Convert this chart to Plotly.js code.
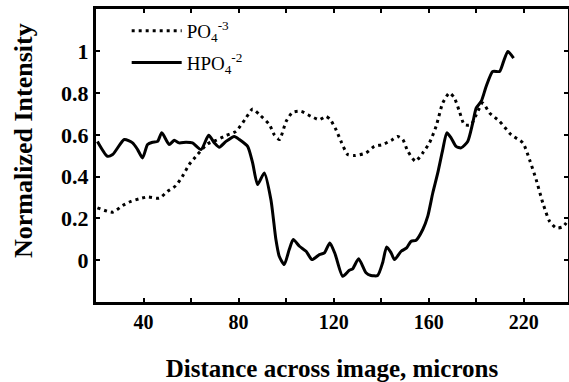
<!DOCTYPE html>
<html>
<head>
<meta charset="utf-8">
<script src="https://cdn.plot.ly/plotly-3.0.1.min.js"></script>
<style>html,body{margin:0;padding:0;background:#fff;}#chart{width:569px;height:382px;}</style>
</head>
<body>
<div id="chart"></div>
<script>
// Distance across image (microns) and normalized intensity
const po4X = [20.6, 27, 31.2, 34.7, 38.2, 41.7, 46.6, 50.1, 53.6, 56.4, 59.2, 62.7, 66.9, 70.5, 74.7, 78.9, 83.1, 85.9, 88.8, 93, 95, 97.2, 100, 102.7, 106.3, 110.5, 114, 116.8, 118.5, 121, 123.1, 125.9, 128.7, 133.6, 137.1, 140.6, 144.2, 146.9, 149.1, 151.2, 154.4, 157.5, 160.3, 163.1, 165.9, 168.7, 170.8, 172.9, 175, 177.8, 180, 182.7, 185.6, 189.8, 194.7, 199.6, 202.4, 205.2, 208, 210.8, 213.6, 216.4, 218.8];
const po4Y = [0.251, 0.23, 0.262, 0.282, 0.294, 0.303, 0.297, 0.33, 0.357, 0.402, 0.458, 0.506, 0.557, 0.574, 0.597, 0.617, 0.681, 0.724, 0.697, 0.649, 0.601, 0.578, 0.665, 0.708, 0.713, 0.689, 0.673, 0.689, 0.675, 0.625, 0.569, 0.506, 0.501, 0.514, 0.545, 0.554, 0.574, 0.593, 0.578, 0.522, 0.474, 0.514, 0.562, 0.641, 0.753, 0.801, 0.777, 0.713, 0.649, 0.649, 0.697, 0.753, 0.705, 0.665, 0.601, 0.562, 0.482, 0.386, 0.275, 0.187, 0.155, 0.16, 0.195];

const hpo4X = [20.6, 24.8, 27, 31.9, 35.4, 37.5, 39.6, 41.7, 43.8, 45.9, 47.7, 50.8, 52.9, 55, 57.9, 60.6, 64.2, 67.4, 69.8, 71.9, 74.7, 78.2, 80.3, 83.8, 85.9, 88, 90.8, 93.6, 95.7, 97.1, 99.2, 101.3, 103, 105.6, 108.4, 110.9, 114, 116.1, 118.4, 120.6, 123.8, 126.6, 128, 130.5, 133.6, 135.7, 138.5, 140.6, 142.3, 144.2, 145.6, 148.4, 150.7, 152.6, 154.7, 157.5, 159.6, 161.7, 163.8, 165.9, 167.6, 169.4, 171.5, 173.6, 176.4, 178.5, 180, 182.1, 184.2, 186.9, 189.8, 191.5, 193.3, 195.7];
const hpo4Y = [0.569, 0.498, 0.506, 0.578, 0.562, 0.53, 0.49, 0.554, 0.565, 0.569, 0.61, 0.554, 0.574, 0.562, 0.565, 0.562, 0.53, 0.598, 0.562, 0.541, 0.569, 0.593, 0.578, 0.545, 0.466, 0.362, 0.418, 0.29, 0.099, 0.019, -0.021, 0.051, 0.099, 0.067, 0.043, 0.003, 0.027, 0.035, 0.083, 0.03, -0.077, -0.048, -0.041, 0.007, -0.06, -0.073, -0.073, -0.012, 0.064, 0.035, 0.003, 0.043, 0.059, 0.091, 0.096, 0.147, 0.211, 0.322, 0.418, 0.53, 0.61, 0.586, 0.545, 0.538, 0.569, 0.657, 0.729, 0.761, 0.833, 0.904, 0.904, 0.952, 1.0, 0.968];

const xTickVals = [40, 60, 80, 100, 120, 140, 160, 180, 200];
const xTickText = ['40', '', '80', '', '120', '', '160', '', '220'];
const yTickVals = [0, 0.2, 0.4, 0.6, 0.8, 1];
const yTickText = ['0', '0.2', '0.4', '0.6', '0.8', '1'];

const serif = 'Liberation Serif, Times New Roman, serif';

const traces = [
  {x: po4X, y: po4Y, type: 'scatter', mode: 'lines', name: 'PO<sub>4</sub><sup>-3</sup>', legendgroup: 'a',
   line: {color: '#000', width: 3, dash: '3px,4px', shape: 'spline', smoothing: 0.6}},
  {x: hpo4X, y: hpo4Y, type: 'scatter', mode: 'lines', name: 'HPO<sub>4</sub><sup>-2</sup>', legendgroup: 'b',
   line: {color: '#000', width: 3, shape: 'spline', smoothing: 0.6}}
];

const layout = {
  width: 569, height: 382,
  margin: {l: 96, r: 1, t: 9, b: 80},
  paper_bgcolor: '#fff', plot_bgcolor: '#fff',
  showlegend: true,
  legend: {x: 0.065, y: 0.99, xanchor: 'left', yanchor: 'top', bgcolor: 'rgba(0,0,0,0)',
           font: {family: serif, size: 19, color: '#000'}, itemwidth: 50, tracegroupgap: 4},
  xaxis: {
    range: [20, 218.6], showgrid: false, zeroline: false,
    showline: true, linecolor: '#000', linewidth: 3, mirror: 'ticks',
    ticks: 'inside', ticklen: 4, tickwidth: 2, tickcolor: '#000',
    tickmode: 'array', tickvals: xTickVals, ticktext: xTickText,
    tickfont: {family: serif, size: 20, color: '#000', weight: 'bold'},
    title: {text: '<b>Distance across image, microns</b>', font: {family: serif, size: 25, color: '#000'}, standoff: 30}
  },
  yaxis: {
    range: [-0.2, 1.203], showgrid: false, zeroline: false,
    showline: true, linecolor: '#000', linewidth: 3, mirror: 'ticks',
    ticks: 'inside', ticklen: 4, tickwidth: 2, tickcolor: '#000',
    tickmode: 'array', tickvals: yTickVals, ticktext: yTickText,
    tickfont: {family: serif, size: 22, color: '#000', weight: 'bold'}
  },
  annotations: [
    {text: '<b>Normalized Intensity</b>', xref: 'paper', yref: 'paper', x: -0.1525, y: 0.5495,
     xanchor: 'center', yanchor: 'middle', textangle: -90, showarrow: false,
     font: {family: serif, size: 26, color: '#000'}}
  ]
};

Plotly.newPlot('chart', traces, layout, {displayModeBar: false, staticPlot: true});
</script>
</body>
</html>
